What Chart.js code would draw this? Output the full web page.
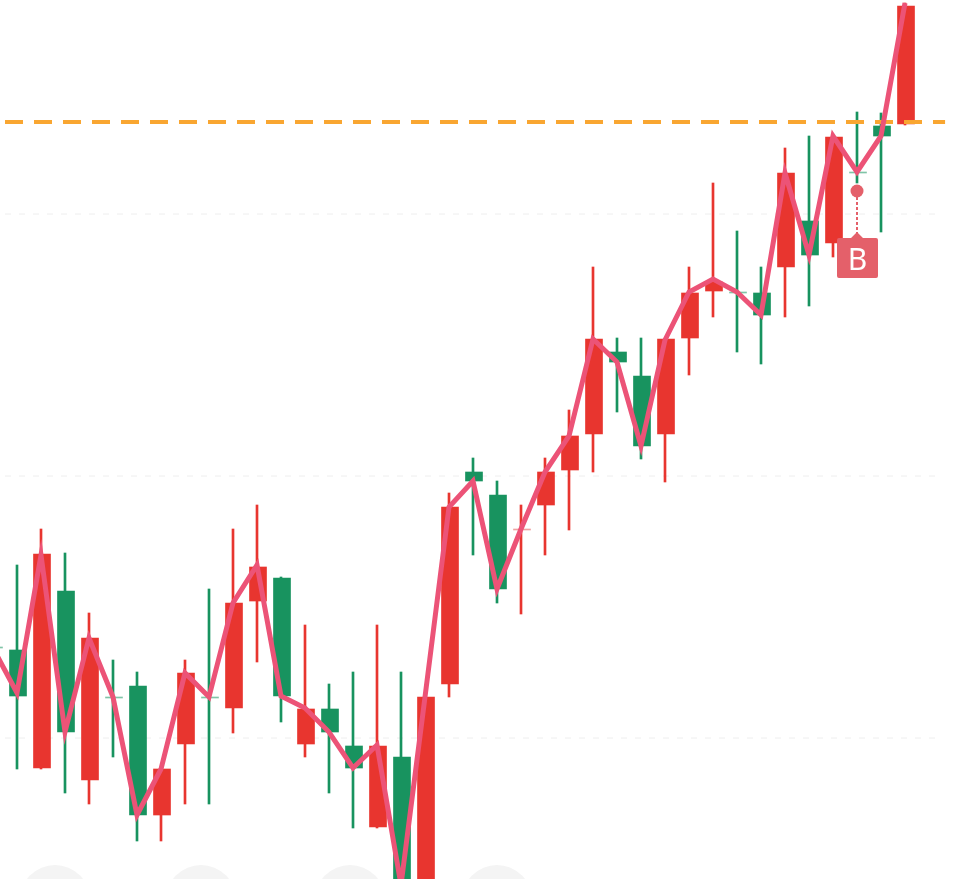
<!DOCTYPE html>
<html>
<head>
<meta charset="utf-8">
<title>K-line</title>
<script src="https://cdn.jsdelivr.net/npm/chart.js@4"></script>
<style>
    html, body { margin: 0; padding: 0; background: #fff; overflow: hidden; }
    #wrap { position: relative; width: 958px; height: 879px; overflow: hidden; }
    #chart { position: absolute; left: 0; top: 0; }
    .ghost { position: absolute; width: 70px; height: 70px; top: 865px; border-radius: 50%; background: #f4f4f4; }
</style>
</head>
<body>
<div id="wrap">
    <div class="ghost" style="left:20px"></div>
    <div class="ghost" style="left:166px"></div>
    <div class="ghost" style="left:315px"></div>
    <div class="ghost" style="left:462px"></div>
    <canvas id="chart" width="958" height="879"></canvas>
</div>
<script>
// candle values, first candle is only just on screen
const opens = [331, 329, 211, 388, 199, 282, 293, 164, 235, 282, 271, 378, 401, 235, 270, 233, 152, 222, 59, 295,
    507, 484, 449, 474, 509, 545, 627, 603, 545, 641, 688, 687, 686, 712, 758, 736, 807, 853, 855];
const closes = [331, 283, 425, 247, 341, 281, 164, 210, 306, 281, 376, 412, 283, 270, 247, 211, 233, 79, 282, 472,
    498, 390, 450, 507, 543, 640, 617, 533, 640, 686, 697, 686, 664, 806, 724, 842, 806, 843, 973];
const highs = [331, 414, 450, 426, 366, 319, 307, 210, 319, 390, 450, 474, 402, 354, 295, 307, 354, 307, 282, 486,
    521, 498, 474, 521, 569, 712, 641, 641, 640, 712, 796, 748, 712, 831, 843, 842, 867, 866, 976];
const lows = [331, 210, 210, 186, 175, 222, 138, 138, 175, 175, 246, 317, 257, 222, 186, 151, 151, 79, 59, 282,
    424, 376, 365, 424, 449, 507, 567, 520, 497, 604, 662, 627, 615, 662, 673, 722, 796, 747, 854];
const avgLine = [331, 286, 424, 247, 341, 282, 164, 210, 306, 282, 376, 414, 283, 271, 247, 211, 234, 94, 282, 472,
    498, 390, 450, 507, 543, 640, 617, 533, 639, 687, 700, 687, 664, 806, 724, 843, 807, 843, 976];
const gridLevels = [241, 503, 765];
const alertLevel = 857;
const buyIndex = 36;
const buyLabel = 'B';
const buyDot = 788;

const RED = '#e8352f';
const GREEN = '#18935f';
const MARK = '#e4606a';

function candleColor(i) {
    let diff = closes[i] - opens[i];
    if (Math.abs(diff) <= 1) {
        return diff > 0 ? 'rgba(232,120,120,0.7)' : 'rgba(24,147,95,0.55)';
    }
    return diff > 0 ? RED : GREEN;
}

// B flag under the doji, placed from the scales
const buyMarker = {
    id: 'buyMarker',
    afterDatasetsDraw(chart) {
        const ctx = chart.ctx;
        const x = chart.scales.x.getPixelForValue(buyIndex);
        const y = chart.scales.y.getPixelForValue(buyDot);

        ctx.save();
        ctx.fillStyle = MARK;
        ctx.strokeStyle = MARK;

        ctx.beginPath();
        ctx.arc(x, y, 6.5, 0, Math.PI * 2);
        ctx.fill();

        ctx.lineWidth = 2;
        ctx.setLineDash([3, 2]);
        ctx.beginPath();
        ctx.moveTo(x, y + 6);
        ctx.lineTo(x, y + 42);
        ctx.stroke();
        ctx.setLineDash([]);

        // box with a small peak on top
        let l = x - 20, r = x + 21, t = y + 47, b = y + 87;
        ctx.beginPath();
        ctx.moveTo(l + 2, t);
        ctx.lineTo(x - 6, t);
        ctx.lineTo(x, t - 6);
        ctx.lineTo(x + 6, t);
        ctx.lineTo(r - 2, t);
        ctx.quadraticCurveTo(r, t, r, t + 2);
        ctx.lineTo(r, b - 2);
        ctx.quadraticCurveTo(r, b, r - 2, b);
        ctx.lineTo(l + 2, b);
        ctx.quadraticCurveTo(l, b, l, b - 2);
        ctx.lineTo(l, t + 2);
        ctx.quadraticCurveTo(l, t, l + 2, t);
        ctx.fill();

        ctx.fillStyle = '#fff';
        ctx.font = '30px "Noto Sans", sans-serif';
        ctx.textAlign = 'center';
        ctx.textBaseline = 'middle';
        ctx.fillText(buyLabel, x + 0.5, (t + b) / 2 + 3);
        ctx.restore();
    }
};

const datasets = [];

gridLevels.forEach(level => {
    datasets.push({
        type: 'line',
        data: [{ x: 0.5, y: level }, { x: 39.5, y: level }],
        borderColor: '#eeeeee',
        borderWidth: 1,
        borderDash: [6, 8],
        pointRadius: 0,
        order: 6
    });
});

datasets.push({
    label: 'wick',
    data: highs.map((h, i) => ({ x: i, y: [lows[i], h] })),
    backgroundColor: highs.map((h, i) => closes[i] > opens[i] ? RED : GREEN),
    barThickness: 2,
    grouped: false,
    order: 5
});

// bodies sit about a pixel right of the wicks in the picture
datasets.push({
    label: 'body',
    data: opens.map((o, i) => ({ x: i + 1 / 24, y: [o, closes[i]] })),
    backgroundColor: opens.map((o, i) => candleColor(i)),
    barThickness: 17,
    minBarLength: 1,
    grouped: false,
    order: 4
});

datasets.push({
    type: 'line',
    label: 'alert',
    data: [{ x: 0.5, y: alertLevel }, { x: 39.67, y: alertLevel }],
    borderColor: '#f9a631',
    borderWidth: 4,
    borderDash: [18, 11],
    pointRadius: 0,
    order: 3
});

datasets.push({
    type: 'line',
    label: 'avg',
    data: avgLine.map((v, i) => ({ x: i, y: v })),
    borderColor: '#ec5377',
    borderWidth: 5,
    borderJoinStyle: 'miter',
    tension: 0,
    pointRadius: 0,
    order: 2
});

new Chart(document.getElementById('chart').getContext('2d'), {
    type: 'bar',
    data: { datasets: datasets },
    options: {
        responsive: false,
        animation: false,
        parsing: { xAxisKey: 'x', yAxisKey: 'y' },
        layout: { padding: 0 },
        plugins: { legend: { display: false }, tooltip: { enabled: false } },
        scales: {
            x: { type: 'linear', display: false, offset: false, min: 7 / 24, max: 965 / 24 },
            y: { type: 'linear', display: false, min: 100, max: 979 }
        }
    },
    plugins: [buyMarker]
});
</script>
</body>
</html>
